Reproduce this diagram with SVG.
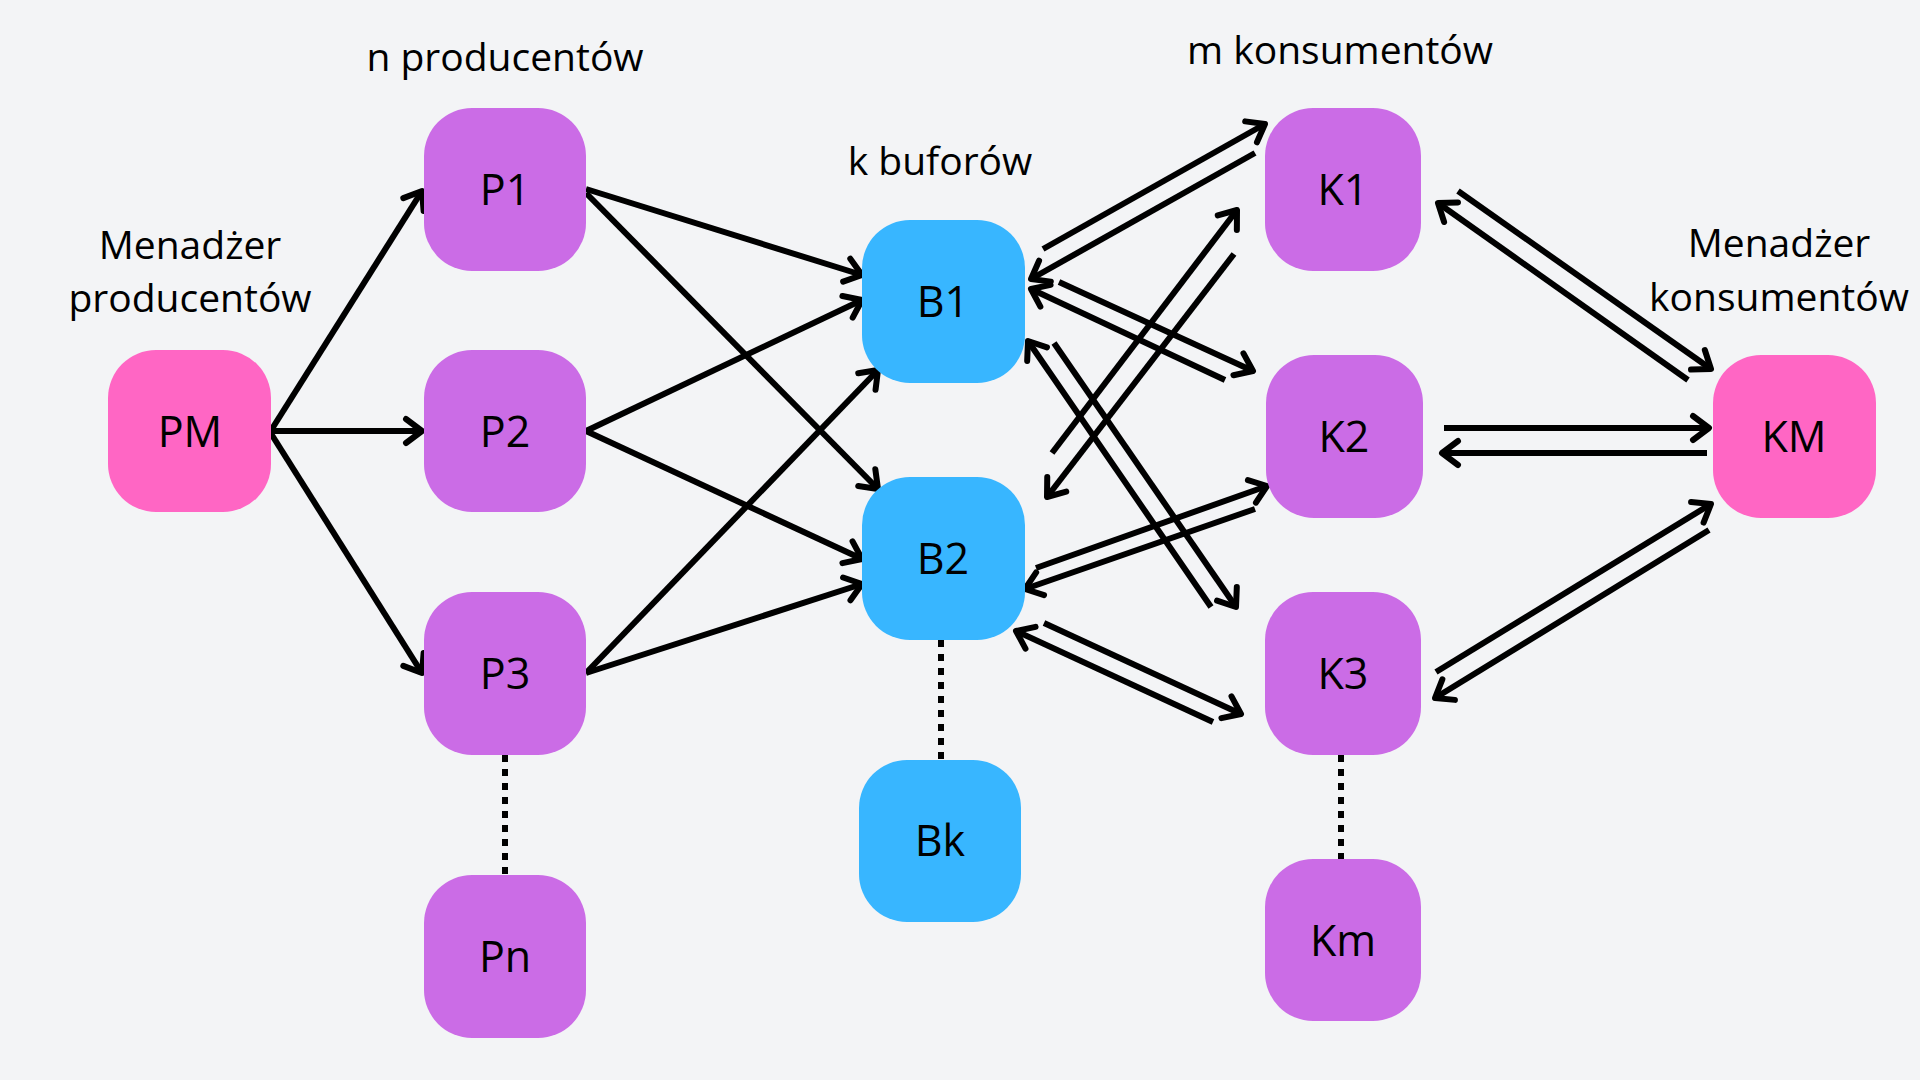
<svg xmlns="http://www.w3.org/2000/svg" width="1920" height="1080" viewBox="0 0 1920 1080">
<defs>
<style>
.lbl{font-family:"Open Sans","Noto Sans","Liberation Sans",sans-serif;font-size:39px;fill:#000;text-anchor:middle}
.nl{font-family:"Open Sans","Noto Sans","Liberation Sans",sans-serif;font-size:43px;fill:#000;text-anchor:middle}
.pink{fill:#FF66C4}
.purple{fill:#CB6CE6}
.blue{fill:#38B6FF}
.c{fill:none;stroke:#000;stroke-width:6;stroke-linecap:butt;marker-end:url(#ah)}
.dot{fill:none;stroke:#000;stroke-width:6;stroke-dasharray:7 7}
</style>
<marker id="ah" markerUnits="userSpaceOnUse" markerWidth="30" markerHeight="40" viewBox="-25 -20 30 40" refX="0" refY="0" orient="auto" overflow="visible">
<path d="M -16 -12 L 0 0 L -16 12" fill="none" stroke="#000" stroke-width="6" stroke-linecap="round" stroke-linejoin="round"/>
</marker>
</defs>
<rect width="1920" height="1080" fill="#F3F4F6"/>

<g id="labels">
<text class="lbl" x="505" y="71">n producentów</text>
<text class="lbl" x="940" y="175">k buforów</text>
<text class="lbl" x="1340" y="64">m konsumentów</text>
<text class="lbl" x="190" y="259">Menadżer</text>
<text class="lbl" x="190" y="312">producentów</text>
<text class="lbl" x="1779" y="257">Menadżer</text>
<text class="lbl" x="1779" y="311">konsumentów</text>
</g>

<g id="connectors">
<path class="c" d="M270 432 L422 191"/>
<path class="c" d="M270 431 L422 431"/>
<path class="c" d="M270 432 L422 673"/>
<path class="c" d="M586 189 L862 275"/>
<path class="c" d="M586 193 L878 489"/>
<path class="c" d="M586 431 L862 300"/>
<path class="c" d="M586 431 L862 559"/>
<path class="c" d="M586 673 L878 370"/>
<path class="c" d="M586 673 L862 584"/>
<path class="c" d="M1043 249 L1265 124"/>
<path class="c" d="M1255 153 L1031 279"/>
<path class="c" d="M1059 282 L1253 371"/>
<path class="c" d="M1225 380 L1031 289"/>
<path class="c" d="M1054 343 L1236 607"/>
<path class="c" d="M1211 607 L1028 341"/>
<path class="c" d="M1052 453 L1237 210"/>
<path class="c" d="M1234 254 L1047 497"/>
<path class="c" d="M1036 568 L1267 486"/>
<path class="c" d="M1255 509 L1025 589"/>
<path class="c" d="M1044 623 L1241 714"/>
<path class="c" d="M1213 722 L1016 631"/>
<path class="c" d="M1458 191 L1711 369"/>
<path class="c" d="M1688 380 L1438 203"/>
<path class="c" d="M1444 428 L1709 428"/>
<path class="c" d="M1707 453 L1442 453"/>
<path class="c" d="M1436 672 L1711 504"/>
<path class="c" d="M1709 530 L1435 698"/>
<path class="dot" d="M505 755 L505 875"/>
<path class="dot" d="M941 640 L941 760"/>
<path class="dot" d="M1341 755 L1341 859"/>
</g>

<g id="PM"><rect class="pink" x="108" y="350" width="163" height="162" rx="48"/><text class="nl" x="190" y="447">PM</text></g>
<g id="P1"><rect class="purple" x="424" y="108" width="162" height="163" rx="48"/><text class="nl" x="505" y="205">P1</text></g>
<g id="P2"><rect class="purple" x="424" y="350" width="162" height="162" rx="48"/><text class="nl" x="505" y="447">P2</text></g>
<g id="P3"><rect class="purple" x="424" y="592" width="162" height="163" rx="48"/><text class="nl" x="505" y="689">P3</text></g>
<g id="Pn"><rect class="purple" x="424" y="875" width="162" height="163" rx="48"/><text class="nl" x="505" y="972">Pn</text></g>
<g id="B1"><rect class="blue" x="862" y="220" width="163" height="163" rx="48"/><text class="nl" x="943" y="317">B1</text></g>
<g id="B2"><rect class="blue" x="862" y="477" width="163" height="163" rx="48"/><text class="nl" x="943" y="574">B2</text></g>
<g id="Bk"><rect class="blue" x="859" y="760" width="162" height="162" rx="48"/><text class="nl" x="940" y="856">Bk</text></g>
<g id="K1"><rect class="purple" x="1265" y="108" width="156" height="163" rx="48"/><text class="nl" x="1343" y="205">K1</text></g>
<g id="K2"><rect class="purple" x="1266" y="355" width="157" height="163" rx="48"/><text class="nl" x="1344" y="452">K2</text></g>
<g id="K3"><rect class="purple" x="1265" y="592" width="156" height="163" rx="48"/><text class="nl" x="1343" y="689">K3</text></g>
<g id="Km"><rect class="purple" x="1265" y="859" width="156" height="162" rx="48"/><text class="nl" x="1343" y="956">Km</text></g>
<g id="KM"><rect class="pink" x="1713" y="355" width="163" height="163" rx="48"/><text class="nl" x="1794" y="452">KM</text></g>
</svg>
